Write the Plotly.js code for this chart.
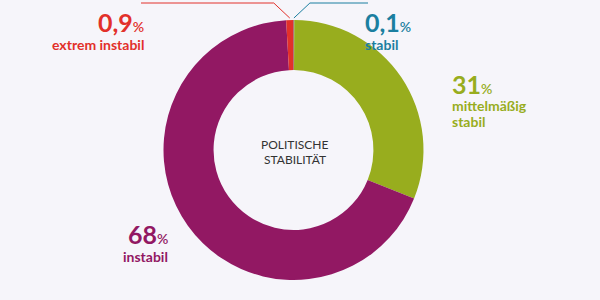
<!DOCTYPE html>
<html>
<head>
<meta charset="utf-8">
<script src="https://cdn.plot.ly/plotly-3.0.1.min.js"></script>
<style>html,body{margin:0;padding:0;background:#f6f5fa;}#chart{width:600px;height:300px;}</style>
</head>
<body>
<div id="chart"></div>
<script>
const categories = ['stabil', 'mittelmäßig stabil', 'instabil', 'extrem instabil'];
const values = [0.1, 31, 68, 0.9];
const valueLabels = ['0,1', '31', '68', '0,9'];
const labelLines = [['stabil'], ['mittelmäßig', 'stabil'], ['instabil'], ['extrem instabil']];
const colors = ['#1b7fa0', '#98ad1e', '#921863', '#e2302a'];
const textColors = ['#1b7fa0', '#98ad1e', '#921863', '#e2302a'];
const centerText = ['POLITISCHE', 'STABILITÄT'];

const W = 600, H = 300;
const cx = 293.5, cy = 150, R = 130;
const px = x => x / W;
const py = y => 1 - y / H;

const font = 'Lato, "Open Sans", sans-serif';

const trace = {
  type: 'pie',
  labels: categories,
  values: values,
  sort: false,
  direction: 'clockwise',
  rotation: 0,
  hole: 0.615,
  marker: {colors: colors, line: {color: '#ffffff', width: 0}},
  textinfo: 'none',
  hoverinfo: 'label+percent',
  domain: {x: [px(cx - R), px(cx + R)], y: [py(cy + R), py(cy - R)]},
  showlegend: false
};

// label placements (anchor position, alignment)
const place = [
  {x: 363, y: 22, anchor: 'left'},
  {x: 450, y: 84, anchor: 'left'},
  {x: 170, y: 234, anchor: 'right'},
  {x: 146, y: 22, anchor: 'right'}
];

const annotations = [];
place.forEach((p, i) => {
  annotations.push({
    xref: 'paper', yref: 'paper', x: px(p.x), y: py(p.y),
    xanchor: p.anchor, yanchor: 'middle', showarrow: false,
    text: '<b>' + valueLabels[i] + '</b><span style="font-size:14px;font-weight:600">%</span>',
    font: {family: font, size: 25, color: textColors[i]}
  });
  labelLines[i].forEach((ln, j) => {
    annotations.push({
      xref: 'paper', yref: 'paper', x: px(p.x), y: py(p.y + 22 + j * 15),
      xanchor: p.anchor, yanchor: 'middle', showarrow: false,
      text: '<b>' + ln + '</b>',
      font: {family: font, size: 14, color: textColors[i]}
    });
  });
});
centerText.forEach((t, j) => {
  annotations.push({
    xref: 'paper', yref: 'paper', x: px(cx + 1), y: py(cy - 6 + j * 15),
    xanchor: 'center', yanchor: 'middle', showarrow: false,
    text: t, font: {family: font, size: 12, color: '#333333'}
  });
});

// leader lines for the two tiny slices, computed from slice mid angles
const total = values.reduce((a, b) => a + b, 0);
function midAngle(i) {
  let start = 0;
  for (let k = 0; k < i; k++) start += values[k];
  return ((start + values[i] / 2) / total) * 2 * Math.PI;
}
function edgePoint(i, r) {
  const a = midAngle(i);
  return [cx + r * Math.sin(a), cy - r * Math.cos(a)];
}
const shapes = [];
const leaders = [
  {i: 0, elbowDx: 16, endX: 368},
  {i: 3, elbowDx: -16, endX: 141}
];
leaders.forEach(l => {
  const [x0, y0] = edgePoint(l.i, R + 2);
  const x1 = x0 + l.elbowDx, y1 = 3;
  shapes.push({
    type: 'path', xref: 'paper', yref: 'paper',
    path: `M ${px(x0)} ${py(y0)} L ${px(x1)} ${py(y1)} L ${px(l.endX)} ${py(y1)}`,
    line: {color: colors[l.i], width: 1}
  });
});

const layout = {
  width: W, height: H,
  margin: {l: 0, r: 0, t: 0, b: 0},
  paper_bgcolor: '#f6f5fa',
  plot_bgcolor: '#f6f5fa',
  annotations: annotations,
  shapes: shapes
};

Plotly.newPlot('chart', [trace], layout, {displayModeBar: false, staticPlot: true});
</script>
</body>
</html>
